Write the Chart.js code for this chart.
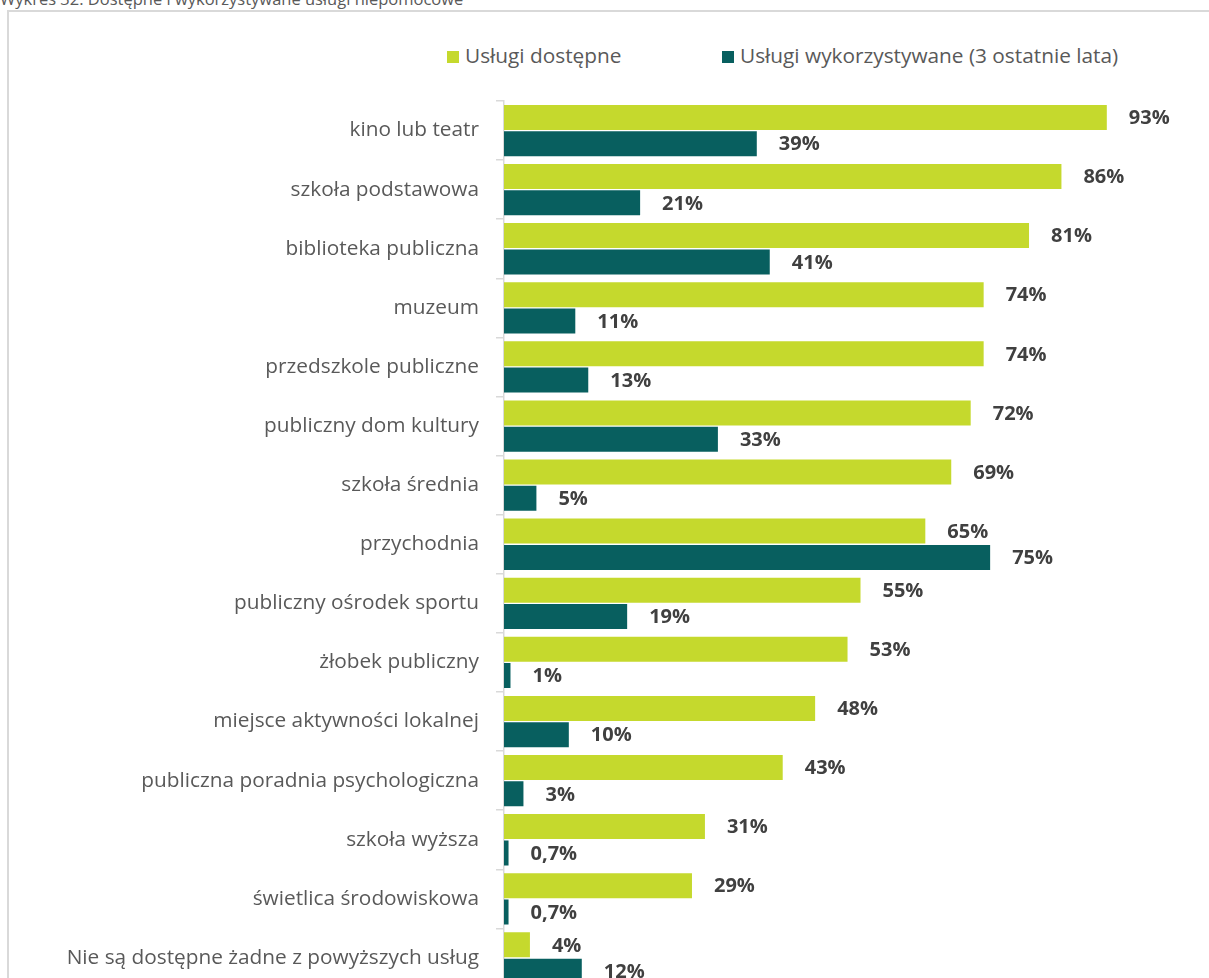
<!DOCTYPE html>
<html>
<head>
<meta charset="utf-8">
<script src="https://cdn.jsdelivr.net/npm/chart.js@4.4.0/dist/chart.umd.min.js"></script>
<style>
  html, body { margin: 0; padding: 0; overflow: hidden; background: #fff; }
  body { width: 1209px; height: 978px; position: relative; font-family: "Open Sans", sans-serif; }
  #title { position: absolute; left: 0; top: -13px; font-size: 16.5px; color: #595959; white-space: nowrap; }
  #frame { position: absolute; left: 7px; top: 10px; width: 1300px; height: 1100px; border: 2px solid #d9d9d9; box-sizing: border-box; }
  #chart { position: absolute; left: 0; top: 0; }
  .legend { position: absolute; top: 41px; font-size: 20.8px; color: #595959; white-space: nowrap; }
  .legend span.box { display: inline-block; width: 12px; height: 12px; margin-right: 6px; vertical-align: 0px; }
</style>
</head>
<body>
<div id="title">Wykres 32. Dostępne i wykorzystywane usługi niepomocowe</div>
<div id="frame"></div>
<div class="legend" style="left:447px"><span class="box" style="background:#c5d92d"></span>Usługi dostępne</div>
<div class="legend" style="left:722px"><span class="box" style="background:#085f5f"></span>Usługi wykorzystywane (3 ostatnie lata)</div>
<canvas id="chart" width="1230" height="1017"></canvas>
<script>
  // Chart data
  const categories = [
    'kino lub teatr',
    'szkoła podstawowa',
    'biblioteka publiczna',
    'muzeum',
    'przedszkole publiczne',
    'publiczny dom kultury',
    'szkoła średnia',
    'przychodnia',
    'publiczny ośrodek sportu',
    'żłobek publiczny',
    'miejsce aktywności lokalnej',
    'publiczna poradnia psychologiczna',
    'szkoła wyższa',
    'świetlica środowiskowa',
    'Nie są dostępne żadne z powyższych usług'
  ];
  const available = [93, 86, 81, 74, 74, 72, 69, 65, 55, 53, 48, 43, 31, 29, 4];
  const used = [39, 21, 41, 11, 13, 33, 5, 75, 19, 1, 10, 3, 0.7, 0.7, 12];
  const seriesNames = ['Usługi dostępne', 'Usługi wykorzystywane (3 ostatnie lata)'];

  // Value labels drawn right of each bar
  const valueLabels = {
    id: 'valueLabels',
    afterDatasetsDraw(chart) {
      const ctx = chart.ctx;
      ctx.save();
      ctx.font = 'bold 20px "Open Sans", sans-serif';
      ctx.fillStyle = '#404040';
      ctx.textAlign = 'left';
      ctx.textBaseline = 'middle';
      chart.data.datasets.forEach((ds, i) => {
        chart.getDatasetMeta(i).data.forEach((bar, j) => {
          const txt = String(ds.data[j]).replace('.', ',') + '%';
          ctx.fillText(txt, bar.x + 22, bar.y + 1);
        });
      });
      ctx.restore();
    }
  };

  new Chart(document.getElementById('chart'), {
    type: 'bar',
    data: {
      labels: categories,
      datasets: [{
        label: seriesNames[0],
        data: available,
        backgroundColor: '#c5d92d',
        categoryPercentage: 0.89,
        barPercentage: 0.95
      }, {
        label: seriesNames[1],
        data: used,
        backgroundColor: '#085f5f',
        categoryPercentage: 0.89,
        barPercentage: 0.95
      }]
    },
    options: {
      indexAxis: 'y',
      responsive: false,
      animation: false,
      layout: { padding: { left: 0, top: 101, right: 13, bottom: 12 } },
      scales: {
        x: { display: false, min: 0, max: 110 },
        y: {
          afterFit(scale) { scale.width = 504; },
          border: { display: true, color: '#d9d9d9', width: 1.5 },
          grid: { drawOnChartArea: false, tickLength: 8, color: '#d9d9d9', lineWidth: 1.5 },
          ticks: { padding: 17, color: '#595959', font: { family: '"Open Sans", sans-serif', size: 20.8 } }
        }
      },
      plugins: {
        legend: { display: false },
        tooltip: { enabled: false }
      }
    },
    plugins: [valueLabels]
  });
</script>
</body>
</html>
